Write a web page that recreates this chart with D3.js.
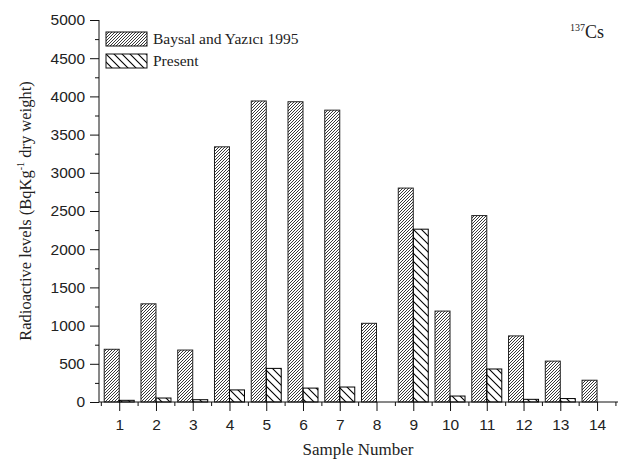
<!DOCTYPE html>
<html>
<head>
<meta charset="utf-8">
<script src="https://cdn.jsdelivr.net/npm/d3@7"></script>
<style>
  body { margin: 0; background: #fff; }
  svg { display: block; }
  .tick text { font-family: "Liberation Sans", Arial, sans-serif; font-size: 15.5px; fill: #222; }
  text.serif { font-family: "Liberation Serif", "Times New Roman", serif; fill: #222; }
</style>
</head>
<body>
<div id="chart"></div>
<script>
// sample numbers on the x axis
var samples = [1, 2, 3, 4, 5, 6, 7, 8, 9, 10, 11, 12, 13, 14];
// 137Cs levels, Bq/kg dry weight
var baysal = [690, 1285, 680, 3340, 3940, 3930, 3820, 1030, 2800, 1190, 2440, 865, 535, 285];
var present = [22, 52, 30, 158, 440, 182, 196, 0, 2262, 78, 432, 35, 45, 0];
var seriesNames = ['Baysal and Yazıcı 1995', 'Present'];
var yTicks = [0, 500, 1000, 1500, 2000, 2500, 3000, 3500, 4000, 4500, 5000];

var width = 628, height = 461;
var margin = {top: 20, right: 10, bottom: 59, left: 99};

var svg = d3.select('#chart').append('svg')
  .attr('width', width)
  .attr('height', height);

var defs = svg.append('defs');

// fine forward hatch for the 1995 bars
defs.append('pattern')
  .attr('id', 'hatchFine')
  .attr('patternUnits', 'userSpaceOnUse')
  .attr('width', 3).attr('height', 3)
  .append('path')
    .attr('d', 'M-1,1 L1,-1 M0,3 L3,0 M2,4 L4,2')
    .attr('stroke', '#222')
    .attr('stroke-width', 0.9);

// wide back hatch for present bars
defs.append('pattern')
  .attr('id', 'hatchWide')
  .attr('patternUnits', 'userSpaceOnUse')
  .attr('width', 8).attr('height', 8)
  .append('path')
    .attr('d', 'M-2,-2 L10,10 M-2,6 L2,10 M6,-2 L10,2')
    .attr('stroke', '#000')
    .attr('stroke-width', 1.1);

var x = d3.scaleLinear()
  .domain([0.45, 14.57])
  .range([margin.left, width - margin.right]);

var y = d3.scaleLinear()
  .domain([0, 5000])
  .range([height - margin.bottom, margin.top]);

var barW = 15;

// bars
var g = svg.append('g');

g.selectAll('rect.old')
  .data(samples)
  .enter()
  .append('rect')
    .attr('class', 'old')
    .attr('x', function(d) { return x(d) - barW; })
    .attr('y', function(d, i) { return y(baysal[i]); })
    .attr('width', barW)
    .attr('height', function(d, i) { return y(0) - y(baysal[i]); })
    .attr('fill', 'url(#hatchFine)')
    .attr('stroke', '#222')
    .attr('stroke-width', 1);

g.selectAll('rect.now')
  .data(samples.filter(function(d, i) { return present[i] > 0; }))
  .enter()
  .append('rect')
    .attr('class', 'now')
    .attr('x', function(d) { return x(d); })
    .attr('y', function(d) { return y(present[d - 1]); })
    .attr('width', barW)
    .attr('height', function(d) { return y(0) - y(present[d - 1]); })
    .attr('fill', 'url(#hatchWide)')
    .attr('stroke', '#000')
    .attr('stroke-width', 1);

// y axis, major and minor
var yAxis = d3.axisLeft(y)
  .tickValues(yTicks)
  .tickSize(9)
  .tickPadding(5)
  .tickFormat(d3.format('d'));

var yMinor = d3.axisLeft(y)
  .tickValues(d3.range(250, 5000, 500))
  .tickSize(4)
  .tickFormat('');

svg.append('g')
  .attr('transform', 'translate(' + margin.left + ',0)')
  .call(yMinor)
  .call(function(s) { s.select('.domain').remove(); });

svg.append('g')
  .attr('transform', 'translate(' + margin.left + ',0)')
  .call(yAxis)
  .call(function(s) {
    s.select('.domain').attr('d', 'M0,' + y(5000) + 'V' + y(0));
  });

// x axis, major and minor
var xAxis = d3.axisBottom(x)
  .tickValues(samples)
  .tickSize(9)
  .tickPadding(8)
  .tickFormat(d3.format('d'));

var xMinor = d3.axisBottom(x)
  .tickValues(d3.range(0.5, 15, 1))
  .tickSize(4)
  .tickFormat('');

svg.append('g')
  .attr('transform', 'translate(0,' + y(0) + ')')
  .call(xMinor)
  .call(function(s) { s.select('.domain').remove(); });

svg.append('g')
  .attr('transform', 'translate(0,' + y(0) + ')')
  .call(xAxis)
  .call(function(s) {
    s.select('.domain').attr('d', 'M' + margin.left + ',0H' + (width - margin.right));
  });

svg.selectAll('.tick line, .domain').attr('stroke', '#111');

// axis titles
svg.append('text')
  .attr('class', 'serif')
  .attr('x', 358)
  .attr('y', 455)
  .attr('text-anchor', 'middle')
  .attr('font-size', 17)
  .text('Sample Number');

var yTitle = svg.append('text')
  .attr('class', 'serif')
  .attr('transform', 'translate(31,' + ((y(0) + y(5000)) / 2) + ') rotate(-90)')
  .attr('text-anchor', 'middle')
  .attr('font-size', 16.5);
yTitle.append('tspan').text('Radioactive levels (BqKg');
yTitle.append('tspan').attr('font-size', 10).attr('dy', -7).text('-1');
yTitle.append('tspan').attr('dy', 7).text(' dry weight)');

// isotope label
var iso = svg.append('text')
  .attr('class', 'serif')
  .attr('x', 604)
  .attr('y', 38)
  .attr('text-anchor', 'end')
  .attr('font-size', 18);
iso.append('tspan').attr('font-size', 10).attr('dy', -7).text('137');
iso.append('tspan').attr('dy', 7).text('Cs');

// legend
var legend = svg.append('g').attr('transform', 'translate(106,32)');
var fills = ['url(#hatchFine)', 'url(#hatchWide)'];
seriesNames.forEach(function(name, i) {
  var row = legend.append('g').attr('transform', 'translate(0,' + (i * 22) + ')');
  row.append('rect')
    .attr('width', 41)
    .attr('height', 14)
    .attr('fill', fills[i])
    .attr('stroke', '#111');
  row.append('text')
    .attr('class', 'serif')
    .attr('x', 47)
    .attr('y', 12)
    .attr('font-size', 15.5)
    .text(name);
});
</script>
</body>
</html>
